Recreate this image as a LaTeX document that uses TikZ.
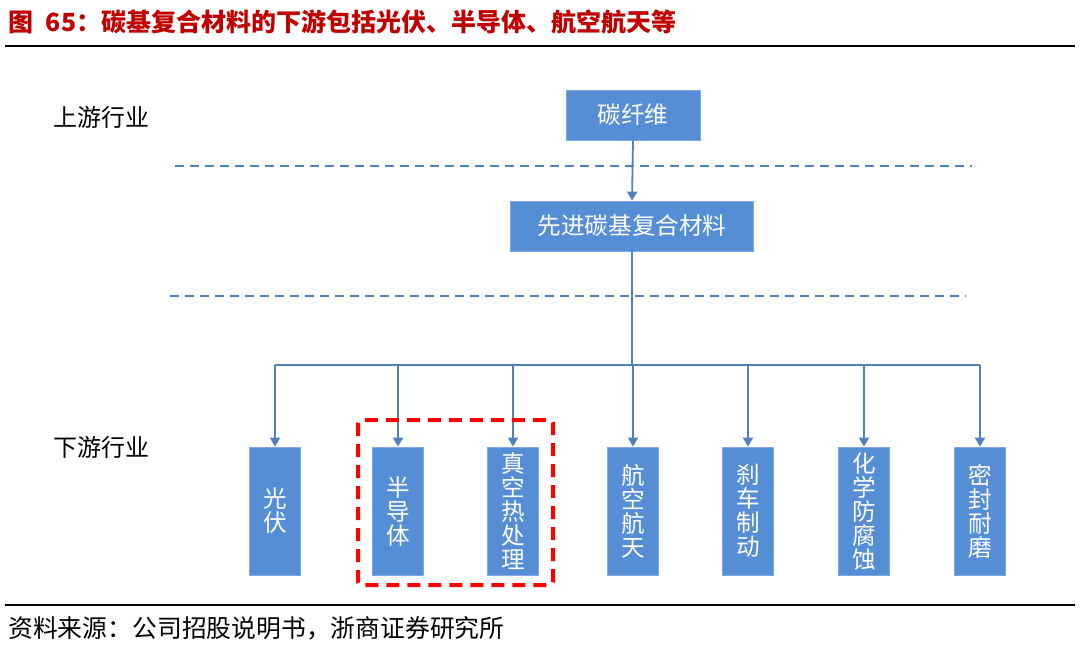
\documentclass[tikz,border=0pt]{standalone}
\usepackage{fontspec}
\setmainfont{Noto Sans CJK SC}
\definecolor{titlered}{RGB}{192, 0, 0}
\definecolor{boxblue}{RGB}{85, 142, 213}
\definecolor{lineblue}{RGB}{79, 129, 189}
\definecolor{markred}{RGB}{255, 0, 0}
\usetikzlibrary{arrows.meta, positioning}

\begin{document}
\begin{tikzpicture}[
    x=0.5pt, y=-0.5pt,
    box/.style={draw=boxblue!75!white, fill=boxblue, text=white,
                inner sep=0pt, font=\fontsize{11.8}{12}\selectfont},
    widebox/.style={box, minimum height=25pt},
    tallbox/.style={box, minimum width=25.5pt, minimum height=64pt,
                    align=center},
    lbl/.style={anchor=west, inner sep=0pt, font=\fontsize{12}{14}\selectfont},
    link/.style={lineblue, line width=0.9pt},
    arr/.style={link, -{Triangle[length=4.5pt, width=5pt]}},
    sep/.style={lineblue, line width=1pt, dash pattern=on 4.5pt off 3pt},
    redbox/.style={markred, line width=2pt, dash pattern=on 6.5pt off 4pt,
                   rounded corners=1.5pt}
  ]
    \useasboundingbox (0,0) rectangle (1080,644);

    \node[anchor=west, inner sep=0pt, text=titlered,
          font=\fontsize{12.5}{14}\selectfont\bfseries]
          (title) at (8,22) {图\hspace{0.5em}65：碳基复合材料的下游包括光伏、半导体、航空航天等};
    \draw[line width=1pt] (5,46) -- (1075,46);

    \node[lbl] (up) at (53,117) {上游行业};
    \node[lbl] (down) at (53,447) {下游行业};

    \node[widebox, minimum width=67pt] (fiber) at (633,115) {碳纤维};
    \node[widebox, minimum width=121.5pt] (composite) at (632,226)
          {先进碳基复合材料};

    \draw[sep] (175,166) -- (972,166);
    \draw[sep] (170,296) -- (966,296);

    \draw[arr] (fiber.south) -- (composite.north);

    \node[tallbox] (pv) at (275,511) {光\\伏};
    \node[tallbox] (semi) at (398,511) {半\\导\\体};
    \node[tallbox] (vacuum) at (513,511) {真\\空\\热\\处\\理};
    \node[tallbox] (aero) at (633,511) {航\\空\\航\\天};
    \node[tallbox] (brake) at (748,511) {刹\\车\\制\\动};
    \node[tallbox] (chem) at (864,511) {化\\学\\防\\腐\\蚀};
    \node[tallbox] (seal) at (980,511) {密\\封\\耐\\磨};

    \coordinate (bus) at (632,365);
    \draw[link] (composite.south) -- (bus);
    \draw[link] (pv.north |- bus) -- (seal.north |- bus);
    \draw[arr] (pv.north |- bus) -- (pv.north);
    \draw[arr] (semi.north |- bus) -- (semi.north);
    \draw[arr] (vacuum.north |- bus) -- (vacuum.north);
    \draw[arr] (aero.north |- bus) -- (aero.north);
    \draw[arr] (brake.north |- bus) -- (brake.north);
    \draw[arr] (chem.north |- bus) -- (chem.north);
    \draw[arr] (seal.north |- bus) -- (seal.north);

    \draw[redbox] (358,420) rectangle (553,585);

    \draw[line width=1pt] (5,605) -- (1075,605);
    \node[lbl, font=\fontsize{12.4}{14}\selectfont] (source) at (8,628)
          {资料来源：公司招股说明书，浙商证券研究所};
  \end{tikzpicture}
\end{document}
